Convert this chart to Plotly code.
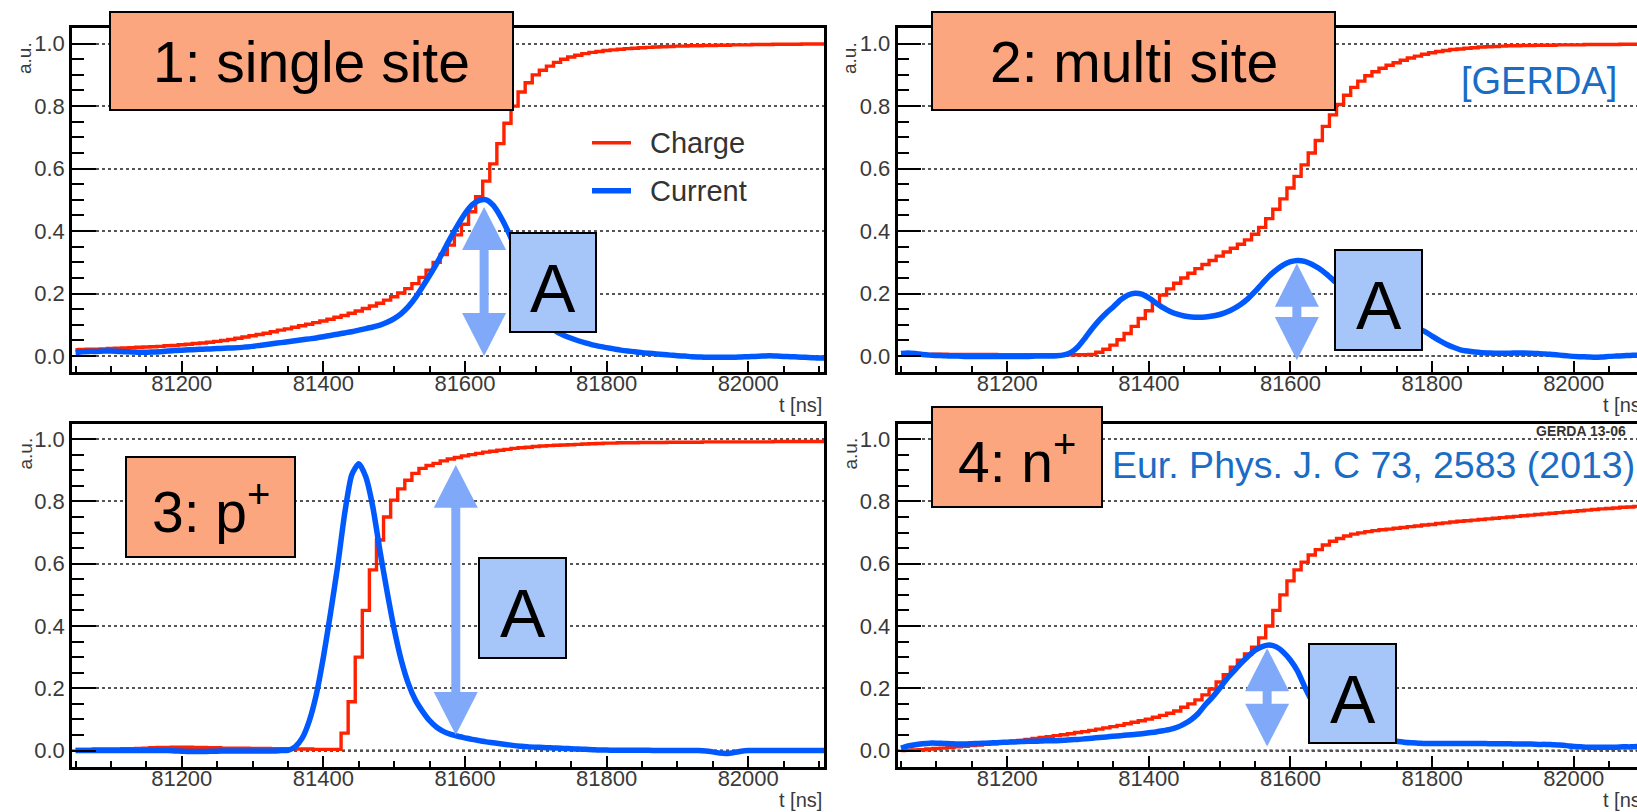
import plotly.graph_objects as go

W, H = 1637, 812

# ---------------------------------------------------------------- data
# sample times (bin centres) in ns
T_NS = list(range(81050, 82111, 10))

CHARGE_SINGLE = [
    0.020, 0.021, 0.022, 0.022, 0.023, 0.024, 0.025, 0.026, 0.027, 0.028,
    0.029, 0.030, 0.031, 0.033, 0.034, 0.036, 0.038, 0.040, 0.042, 0.044,
    0.047, 0.050, 0.053, 0.057, 0.061, 0.065, 0.069, 0.073, 0.078, 0.083,
    0.087, 0.092, 0.097, 0.102, 0.107, 0.112, 0.118, 0.124, 0.130, 0.137,
    0.144, 0.152, 0.160, 0.169, 0.179, 0.190, 0.202, 0.216, 0.232, 0.252,
    0.275, 0.300, 0.325, 0.355, 0.388, 0.422, 0.462, 0.510, 0.560, 0.615,
    0.680, 0.745, 0.800, 0.845, 0.875, 0.900, 0.915, 0.928, 0.940, 0.950,
    0.957, 0.963, 0.968, 0.972, 0.975, 0.978, 0.980, 0.982, 0.984, 0.985,
    0.987, 0.988, 0.989, 0.990, 0.991, 0.992, 0.992, 0.993, 0.993, 0.994,
    0.994, 0.995, 0.995, 0.996, 0.996, 0.996, 0.997, 0.997, 0.997, 0.998,
    0.998, 0.998, 0.998, 0.999, 0.999, 0.999, 0.999,
]
CURRENT_SINGLE = [
    0.012, 0.014, 0.015, 0.015, 0.016, 0.016, 0.015, 0.014, 0.013, 0.012,
    0.012, 0.013, 0.014, 0.016, 0.018, 0.019, 0.020, 0.021, 0.022, 0.023,
    0.024, 0.025, 0.026, 0.027, 0.029, 0.031, 0.034, 0.037, 0.040, 0.043,
    0.046, 0.049, 0.052, 0.055, 0.058, 0.062, 0.066, 0.070, 0.074, 0.078,
    0.083, 0.088, 0.093, 0.099, 0.108, 0.120, 0.136, 0.158, 0.187, 0.222,
    0.258, 0.296, 0.338, 0.380, 0.420, 0.456, 0.484, 0.498, 0.500, 0.482,
    0.447, 0.403, 0.350, 0.290, 0.230, 0.175, 0.130, 0.095, 0.077, 0.066,
    0.057, 0.049, 0.042, 0.036, 0.031, 0.027, 0.023, 0.019, 0.016, 0.014,
    0.011, 0.009, 0.007, 0.005, 0.003, 0.001, 0.000, -0.002, -0.003, -0.004,
    -0.004, -0.004, -0.004, -0.004, -0.003, -0.002, -0.001, 0.000, 0.001, 0.000,
    -0.001, -0.002, -0.003, -0.004, -0.005, -0.006, -0.006,
]
CHARGE_MULTI = [
    0.006, 0.006, 0.005, 0.005, 0.005, 0.006, 0.006, 0.005, 0.005, 0.005,
    0.005, 0.005, 0.005, 0.005, 0.004, 0.004, 0.004, 0.004, 0.004, 0.004,
    0.004, 0.004, 0.004, 0.004, 0.004, 0.004, 0.004, 0.005, 0.012, 0.022,
    0.035, 0.052, 0.072, 0.095, 0.120, 0.145, 0.170, 0.195, 0.215, 0.233,
    0.250, 0.265, 0.280, 0.293, 0.306, 0.320, 0.333, 0.345, 0.358, 0.372,
    0.390, 0.412, 0.440, 0.470, 0.503, 0.538, 0.575, 0.612, 0.650, 0.690,
    0.735, 0.772, 0.805, 0.835, 0.860, 0.880, 0.897, 0.910, 0.921, 0.931,
    0.939, 0.947, 0.954, 0.960, 0.966, 0.971, 0.975, 0.978, 0.981, 0.983,
    0.985, 0.987, 0.989, 0.990, 0.991, 0.992, 0.993, 0.993, 0.994, 0.994,
    0.995, 0.995, 0.995, 0.996, 0.996, 0.996, 0.996, 0.997, 0.997, 0.997,
    0.997, 0.997, 0.998, 0.998, 0.998, 0.998, 0.998,
]
CURRENT_MULTI = [
    0.008, 0.010, 0.008, 0.005, 0.003, 0.002, 0.001, 0.000, 0.000, -0.001,
    -0.001, -0.001, -0.001, -0.001, -0.001, -0.001, -0.001, -0.001, -0.001, 0.000,
    0.000, 0.000, 0.001, 0.004, 0.012, 0.030, 0.058, 0.088, 0.115, 0.138,
    0.158, 0.180, 0.195, 0.201, 0.198, 0.186, 0.170, 0.155, 0.143, 0.134,
    0.128, 0.125, 0.124, 0.125, 0.128, 0.133, 0.141, 0.152, 0.166, 0.184,
    0.207, 0.232, 0.256, 0.276, 0.292, 0.302, 0.306, 0.303, 0.294, 0.281,
    0.264, 0.244, 0.224, 0.205, 0.188, 0.172, 0.157, 0.143, 0.130, 0.118,
    0.108, 0.100, 0.095, 0.089, 0.078, 0.064, 0.050, 0.038, 0.028, 0.020,
    0.016, 0.013, 0.011, 0.010, 0.009, 0.009, 0.009, 0.010, 0.010, 0.009,
    0.008, 0.007, 0.005, 0.003, 0.001, -0.001, -0.002, -0.003, -0.004, -0.003,
    -0.001, 0.000, 0.001, 0.002, 0.003, 0.003, 0.003,
]
CHARGE_PPLUS = [
    0.004, 0.004, 0.004, 0.005, 0.005, 0.005, 0.005, 0.006, 0.006, 0.007,
    0.008, 0.009, 0.010, 0.010, 0.011, 0.011, 0.011, 0.010, 0.010, 0.009,
    0.009, 0.008, 0.008, 0.008, 0.008, 0.007, 0.007, 0.007, 0.006, 0.006,
    0.006, 0.005, 0.005, 0.005, 0.004, 0.004, 0.004, 0.004, 0.056, 0.157,
    0.300, 0.450, 0.580, 0.676, 0.750, 0.804, 0.840, 0.868, 0.890, 0.906,
    0.915, 0.922, 0.930, 0.936, 0.941, 0.946, 0.950, 0.954, 0.958, 0.961,
    0.964, 0.967, 0.970, 0.972, 0.974, 0.976, 0.978, 0.979, 0.980, 0.981,
    0.982, 0.983, 0.984, 0.985, 0.986, 0.987, 0.987, 0.988, 0.988, 0.988,
    0.989, 0.989, 0.989, 0.989, 0.990, 0.990, 0.990, 0.990, 0.990, 0.991,
    0.991, 0.991, 0.991, 0.991, 0.991, 0.991, 0.991, 0.991, 0.991, 0.992,
    0.992, 0.992, 0.992, 0.992, 0.992, 0.992, 0.992,
]
CURRENT_PPLUS = [
    0.000, 0.000, 0.000, 0.000, 0.000, 0.000, 0.000, 0.000, 0.000, 0.000,
    0.000, 0.000, 0.000, 0.000, -0.001, -0.002, -0.003, -0.003, -0.003, -0.002,
    -0.002, -0.001, -0.001, -0.001, -0.001, -0.001, -0.001, -0.001, -0.001, 0.000,
    0.001, 0.012, 0.040, 0.095, 0.180, 0.300, 0.440, 0.590, 0.760, 0.885,
    0.921, 0.878, 0.780, 0.640, 0.510, 0.390, 0.290, 0.215, 0.162, 0.126,
    0.096, 0.075, 0.061, 0.052, 0.046, 0.041, 0.036, 0.032, 0.028, 0.025,
    0.022, 0.019, 0.016, 0.014, 0.012, 0.011, 0.010, 0.009, 0.008, 0.007,
    0.006, 0.005, 0.004, 0.003, 0.002, 0.002, 0.001, 0.001, 0.001, 0.001,
    0.001, 0.001, 0.000, 0.000, 0.000, 0.000, 0.000, 0.000, 0.000, -0.001,
    -0.004, -0.008, -0.009, -0.006, -0.002, 0.000, 0.000, 0.000, 0.000, 0.000,
    0.000, 0.000, 0.000, 0.000, 0.000, 0.000, 0.000,
]
CHARGE_NPLUS = [
    0.000, 0.001, 0.002, 0.003, 0.005, 0.007, 0.008, 0.010, 0.012, 0.014,
    0.016, 0.018, 0.020, 0.022, 0.025, 0.028, 0.030, 0.033, 0.036, 0.039,
    0.042, 0.045, 0.048, 0.051, 0.054, 0.058, 0.061, 0.065, 0.069, 0.073,
    0.077, 0.081, 0.086, 0.091, 0.096, 0.101, 0.107, 0.113, 0.120, 0.127,
    0.139, 0.150, 0.163, 0.179, 0.198, 0.220, 0.244, 0.268, 0.290, 0.310,
    0.332, 0.362, 0.400, 0.450, 0.500, 0.545, 0.580, 0.605, 0.628, 0.645,
    0.660, 0.672, 0.681, 0.689, 0.695, 0.699, 0.703, 0.706, 0.709, 0.711,
    0.714, 0.716, 0.719, 0.721, 0.724, 0.726, 0.729, 0.731, 0.734, 0.736,
    0.738, 0.740, 0.742, 0.744, 0.746, 0.748, 0.750, 0.752, 0.754, 0.756,
    0.758, 0.760, 0.762, 0.764, 0.766, 0.768, 0.770, 0.772, 0.774, 0.776,
    0.777, 0.779, 0.781, 0.782, 0.784, 0.786, 0.787,
]
CURRENT_NPLUS = [
    0.008, 0.015, 0.019, 0.022, 0.024, 0.024, 0.023, 0.022, 0.021, 0.021,
    0.022, 0.023, 0.024, 0.025, 0.026, 0.027, 0.028, 0.029, 0.030, 0.030,
    0.031, 0.032, 0.032, 0.033, 0.035, 0.036, 0.038, 0.040, 0.042, 0.044,
    0.046, 0.048, 0.050, 0.052, 0.054, 0.057, 0.060, 0.064, 0.068, 0.075,
    0.086, 0.100, 0.120, 0.148, 0.172, 0.200, 0.230, 0.255, 0.280, 0.302,
    0.322, 0.334, 0.339, 0.333, 0.316, 0.290, 0.255, 0.205, 0.160, 0.120,
    0.092, 0.071, 0.056, 0.046, 0.040, 0.036, 0.034, 0.033, 0.032, 0.031,
    0.030, 0.027, 0.025, 0.024, 0.023, 0.023, 0.023, 0.023, 0.023, 0.023,
    0.023, 0.023, 0.023, 0.022, 0.022, 0.022, 0.022, 0.021, 0.021, 0.021,
    0.020, 0.020, 0.019, 0.018, 0.016, 0.013, 0.012, 0.011, 0.011, 0.011,
    0.011, 0.011, 0.012, 0.012, 0.013, 0.013, 0.013,
]

CHARGES = [CHARGE_SINGLE, CHARGE_MULTI, CHARGE_PPLUS, CHARGE_NPLUS]
CURRENTS = [CURRENT_SINGLE, CURRENT_MULTI, CURRENT_PPLUS, CURRENT_NPLUS]
PANEL_TITLES = ["1: single site", "2: multi site", "3: p<sup>+</sup>", "4: n<sup>+</sup>"]
SERIES_NAMES = ["Charge", "Current"]

# amplitude arrows: time position, lower end, upper end (a.u.)
ARROW_T = [81627, 81609, 81587, 81567]
ARROW_LOW = [0.0, -0.013, 0.05, 0.013]
ARROW_HIGH = [0.477, 0.296, 0.917, 0.3285]

X_TICKS = [81200, 81400, 81600, 81800, 82000]

# ---------------------------------------------------------------- style
RED = "#ff2200"
BLUE = "#0058ff"
ORANGE = "#fca67f"
ABOX = "#a6c6fa"
ARROW = "#80aaf9"
CITE = "#1a6cc4"
FONT = "Liberation Sans, Arial, Helvetica, sans-serif"
TICKFONT = dict(family=FONT, size=22, color="#3a3a3a")

# panel frames in pixels: x0, x1, y0 (top), y1 (bottom)
PANEL_BOX = [(72, 824, 28, 372), (897.5, 1637, 28, 372),
             (72, 824, 423.5, 766.5), (897.5, 1637, 423.5, 766.5)]
T_START = 81045
PX_PER_NS = 752 / 1062.0
Y_RANGE = [-0.051, 1.05]


def px(x):
    return x / W


def py(y):
    return 1 - y / H


def label(text, x, y, size, color="black", xanchor="center", yanchor="middle",
          angle=0):
    return dict(text=text, x=px(x), y=py(y), xref="paper", yref="paper",
                showarrow=False, xanchor=xanchor, yanchor=yanchor,
                textangle=angle, font=dict(family=FONT, size=size, color=color))


fig = go.Figure()
layout = dict(width=W, height=H, margin=dict(l=0, r=0, t=0, b=0),
              paper_bgcolor="white", plot_bgcolor="white", showlegend=False)
shapes, annotations = [], []

for i, (x0, x1, y0, y1) in enumerate(PANEL_BOX):
    sfx = "" if i == 0 else str(i + 1)
    xref, yref = "x" + sfx, "y" + sfx
    full_frame = (i % 2 == 0)
    layout["xaxis" + sfx] = dict(
        domain=[px(x0), px(x1)],
        range=[T_START, T_START + (x1 - x0) / PX_PER_NS],
        anchor=yref, tickmode="array", tickvals=X_TICKS, tickformat="d",
        ticks="inside", ticklen=11, tickwidth=2, tickcolor="black",
        ticklabelstandoff=-10,
        minor=dict(dtick=50, tick0=81000, ticks="inside", ticklen=6,
                   tickwidth=1.5, tickcolor="black", showgrid=False),
        showline=True, linecolor="black", linewidth=2.5, mirror=True,
        showgrid=False, zeroline=False, tickfont=TICKFONT,
    )
    layout["yaxis" + sfx] = dict(
        domain=[py(y1), py(y0)], range=Y_RANGE, anchor=xref,
        tick0=0, dtick=0.2, tickformat=".1f",
        ticks="inside", ticklen=24, tickwidth=2, tickcolor="black",
        minor=dict(dtick=0.05, tick0=0, ticks="inside", ticklen=12,
                   tickwidth=1.5, tickcolor="black", showgrid=False),
        showline=True, linecolor="black", linewidth=2.5,
        mirror=True if full_frame else False,
        showgrid=True, gridcolor="#555555", gridwidth=1.5, griddash="dot",
        zeroline=False, tickfont=TICKFONT,
    )

    # dark dotted baseline
    shapes.append(dict(type="line", xref=xref + " domain", yref=yref,
                       x0=0, x1=1, y0=0, y1=0, layer="below",
                       line=dict(color="#1c2858", width=2, dash="dot")))

    fig.add_trace(go.Scatter(x=T_NS, y=CHARGES[i], mode="lines",
                             name=SERIES_NAMES[0], xaxis=xref, yaxis=yref,
                             line=dict(color=RED, width=3.4, shape="hvh")))
    fig.add_trace(go.Scatter(x=T_NS, y=CURRENTS[i], mode="lines",
                             name=SERIES_NAMES[1], xaxis=xref, yaxis=yref,
                             line=dict(color=BLUE, width=5.5, shape="spline",
                                       smoothing=0.6)))

    # double-headed amplitude arrow
    t, lo, hi = ARROW_T[i], ARROW_LOW[i], ARROW_HIGH[i]
    hw = 22 / PX_PER_NS
    hh = 43 / 312.0
    shapes.append(dict(type="line", xref=xref, yref=yref, x0=t, x1=t,
                       y0=lo + hh * 0.5, y1=hi - hh * 0.5, layer="above",
                       line=dict(color=ARROW, width=9)))
    for tip, base in ((hi, hi - hh), (lo, lo + hh)):
        shapes.append(dict(type="path", xref=xref, yref=yref, layer="above",
                           path=f"M {t - hw},{base} L {t + hw},{base} L {t},{tip} Z",
                           fillcolor=ARROW, line=dict(width=0)))

    # axis titles
    ax_cx = 25 if full_frame else 850
    annotations.append(label("a.u.", ax_cx, y0 + 30, 19, "#3a3a3a", angle=-90))
    x_right = 824 if full_frame else 1648
    annotations.append(label("t [ns]", x_right, y1 + 33, 20, "#3a3a3a",
                             xanchor="right"))

# title boxes
TITLE_BOX = [(110, 513, 12, 110), (932, 1335, 12, 110),
             (126, 295, 457, 557), (932, 1102, 407, 507)]
for (bx0, bx1, by0, by1), title in zip(TITLE_BOX, PANEL_TITLES):
    shapes.append(dict(type="rect", xref="paper", yref="paper", layer="above",
                       x0=px(bx0), x1=px(bx1), y0=py(by1), y1=py(by0),
                       fillcolor=ORANGE, line=dict(color="black", width=2)))
    annotations.append(label(title, (bx0 + bx1) / 2, (by0 + by1) / 2 + 1, 57))

# amplitude label boxes
A_BOX = [(510, 596, 233, 332), (1335, 1422, 250, 350),
         (479, 566, 558, 658), (1309, 1396, 644, 743)]
for bx0, bx1, by0, by1 in A_BOX:
    shapes.append(dict(type="rect", xref="paper", yref="paper", layer="above",
                       x0=px(bx0), x1=px(bx1), y0=py(by1), y1=py(by0),
                       fillcolor=ABOX, line=dict(color="black", width=2)))
    annotations.append(label("A", (bx0 + bx1) / 2, (by0 + by1) / 2 + 5, 68))

# key for the two series
for name, color, width, ly in ((SERIES_NAMES[0], RED, 3.5, 142.7),
                               (SERIES_NAMES[1], BLUE, 5.5, 190.7)):
    shapes.append(dict(type="line", xref="paper", yref="paper", layer="above",
                       x0=px(592), x1=px(631), y0=py(ly), y1=py(ly),
                       line=dict(color=color, width=width)))
    annotations.append(label(name, 648, ly, 29, "#333333", xanchor="left"))

annotations.append(label("[GERDA]", 1539, 81, 38, CITE))
annotations.append(label("Eur. Phys. J. C 73, 2583 (2013)", 1110, 465, 37.5, CITE,
                         xanchor="left"))
annotations.append(label("<b>GERDA 13-06</b>", 1534, 431, 14, "#333333",
                         xanchor="left"))

layout["shapes"] = shapes
layout["annotations"] = annotations
fig.update_layout(**layout)

fig.write_html("out.html")
